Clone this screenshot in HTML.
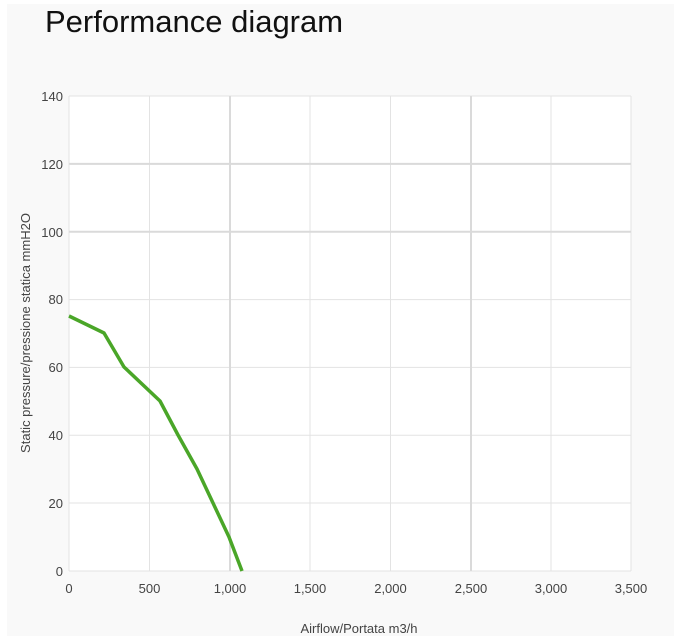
<!DOCTYPE html>
<html><head><style>
body{margin:0;background:#fff;width:676px;height:639px;overflow:hidden;font-family:"Liberation Sans",sans-serif;}
</style></head><body>
<svg width="676" height="639" xmlns="http://www.w3.org/2000/svg" font-family="Liberation Sans, sans-serif">
<rect x="7" y="4" width="667" height="632" fill="#f9f9f9"/>
<text x="45" y="32" font-size="31" fill="#111">Performance diagram</text>
<rect x="69" y="96" width="562" height="475" fill="#fff"/>
<g stroke="#e3e3e3" stroke-width="1">
<line x1="69" y1="503" x2="631" y2="503"/><line x1="69" y1="435.3" x2="631" y2="435.3"/>
<line x1="69" y1="367.4" x2="631" y2="367.4"/><line x1="69" y1="299.6" x2="631" y2="299.6"/>
<line x1="69" y1="96" x2="631" y2="96"/>
<line x1="149.5" y1="96" x2="149.5" y2="571"/><line x1="310" y1="96" x2="310" y2="571"/>
<line x1="390.5" y1="96" x2="390.5" y2="571"/><line x1="551" y1="96" x2="551" y2="571"/>
<line x1="631" y1="96" x2="631" y2="571"/>
<line x1="69" y1="96" x2="69" y2="571"/><line x1="69" y1="571" x2="631" y2="571"/>
</g>
<g stroke="#dadada" stroke-width="2">
<line x1="69" y1="231.7" x2="631" y2="231.7"/><line x1="69" y1="163.9" x2="631" y2="163.9"/>
<line x1="230" y1="96" x2="230" y2="571"/><line x1="471" y1="96" x2="471" y2="571"/>
</g>
<polyline points="69,316 104,333 124,367 160,401 178,435 197,469 213,503 229,537 242,571" fill="none" stroke="#4aa628" stroke-width="3.5" stroke-linejoin="round"/>
<g font-size="13" fill="#444" text-anchor="end">
<text x="63" y="576">0</text><text x="63" y="508">20</text><text x="63" y="440">40</text>
<text x="63" y="372">60</text><text x="63" y="304">80</text><text x="63" y="237">100</text>
<text x="63" y="169">120</text><text x="63" y="101">140</text>
</g>
<g font-size="13" fill="#444" text-anchor="middle">
<text x="69" y="593">0</text><text x="149.5" y="593">500</text><text x="230" y="593">1,000</text>
<text x="310" y="593">1,500</text><text x="390.5" y="593">2,000</text><text x="471" y="593">2,500</text>
<text x="551" y="593">3,000</text><text x="631" y="593">3,500</text>
<text x="359" y="633">Airflow/Portata m3/h</text>
<text transform="translate(30,333) rotate(-90)">Static pressure/pressione statica mmH2O</text>
</g>
</svg>
</body></html>
